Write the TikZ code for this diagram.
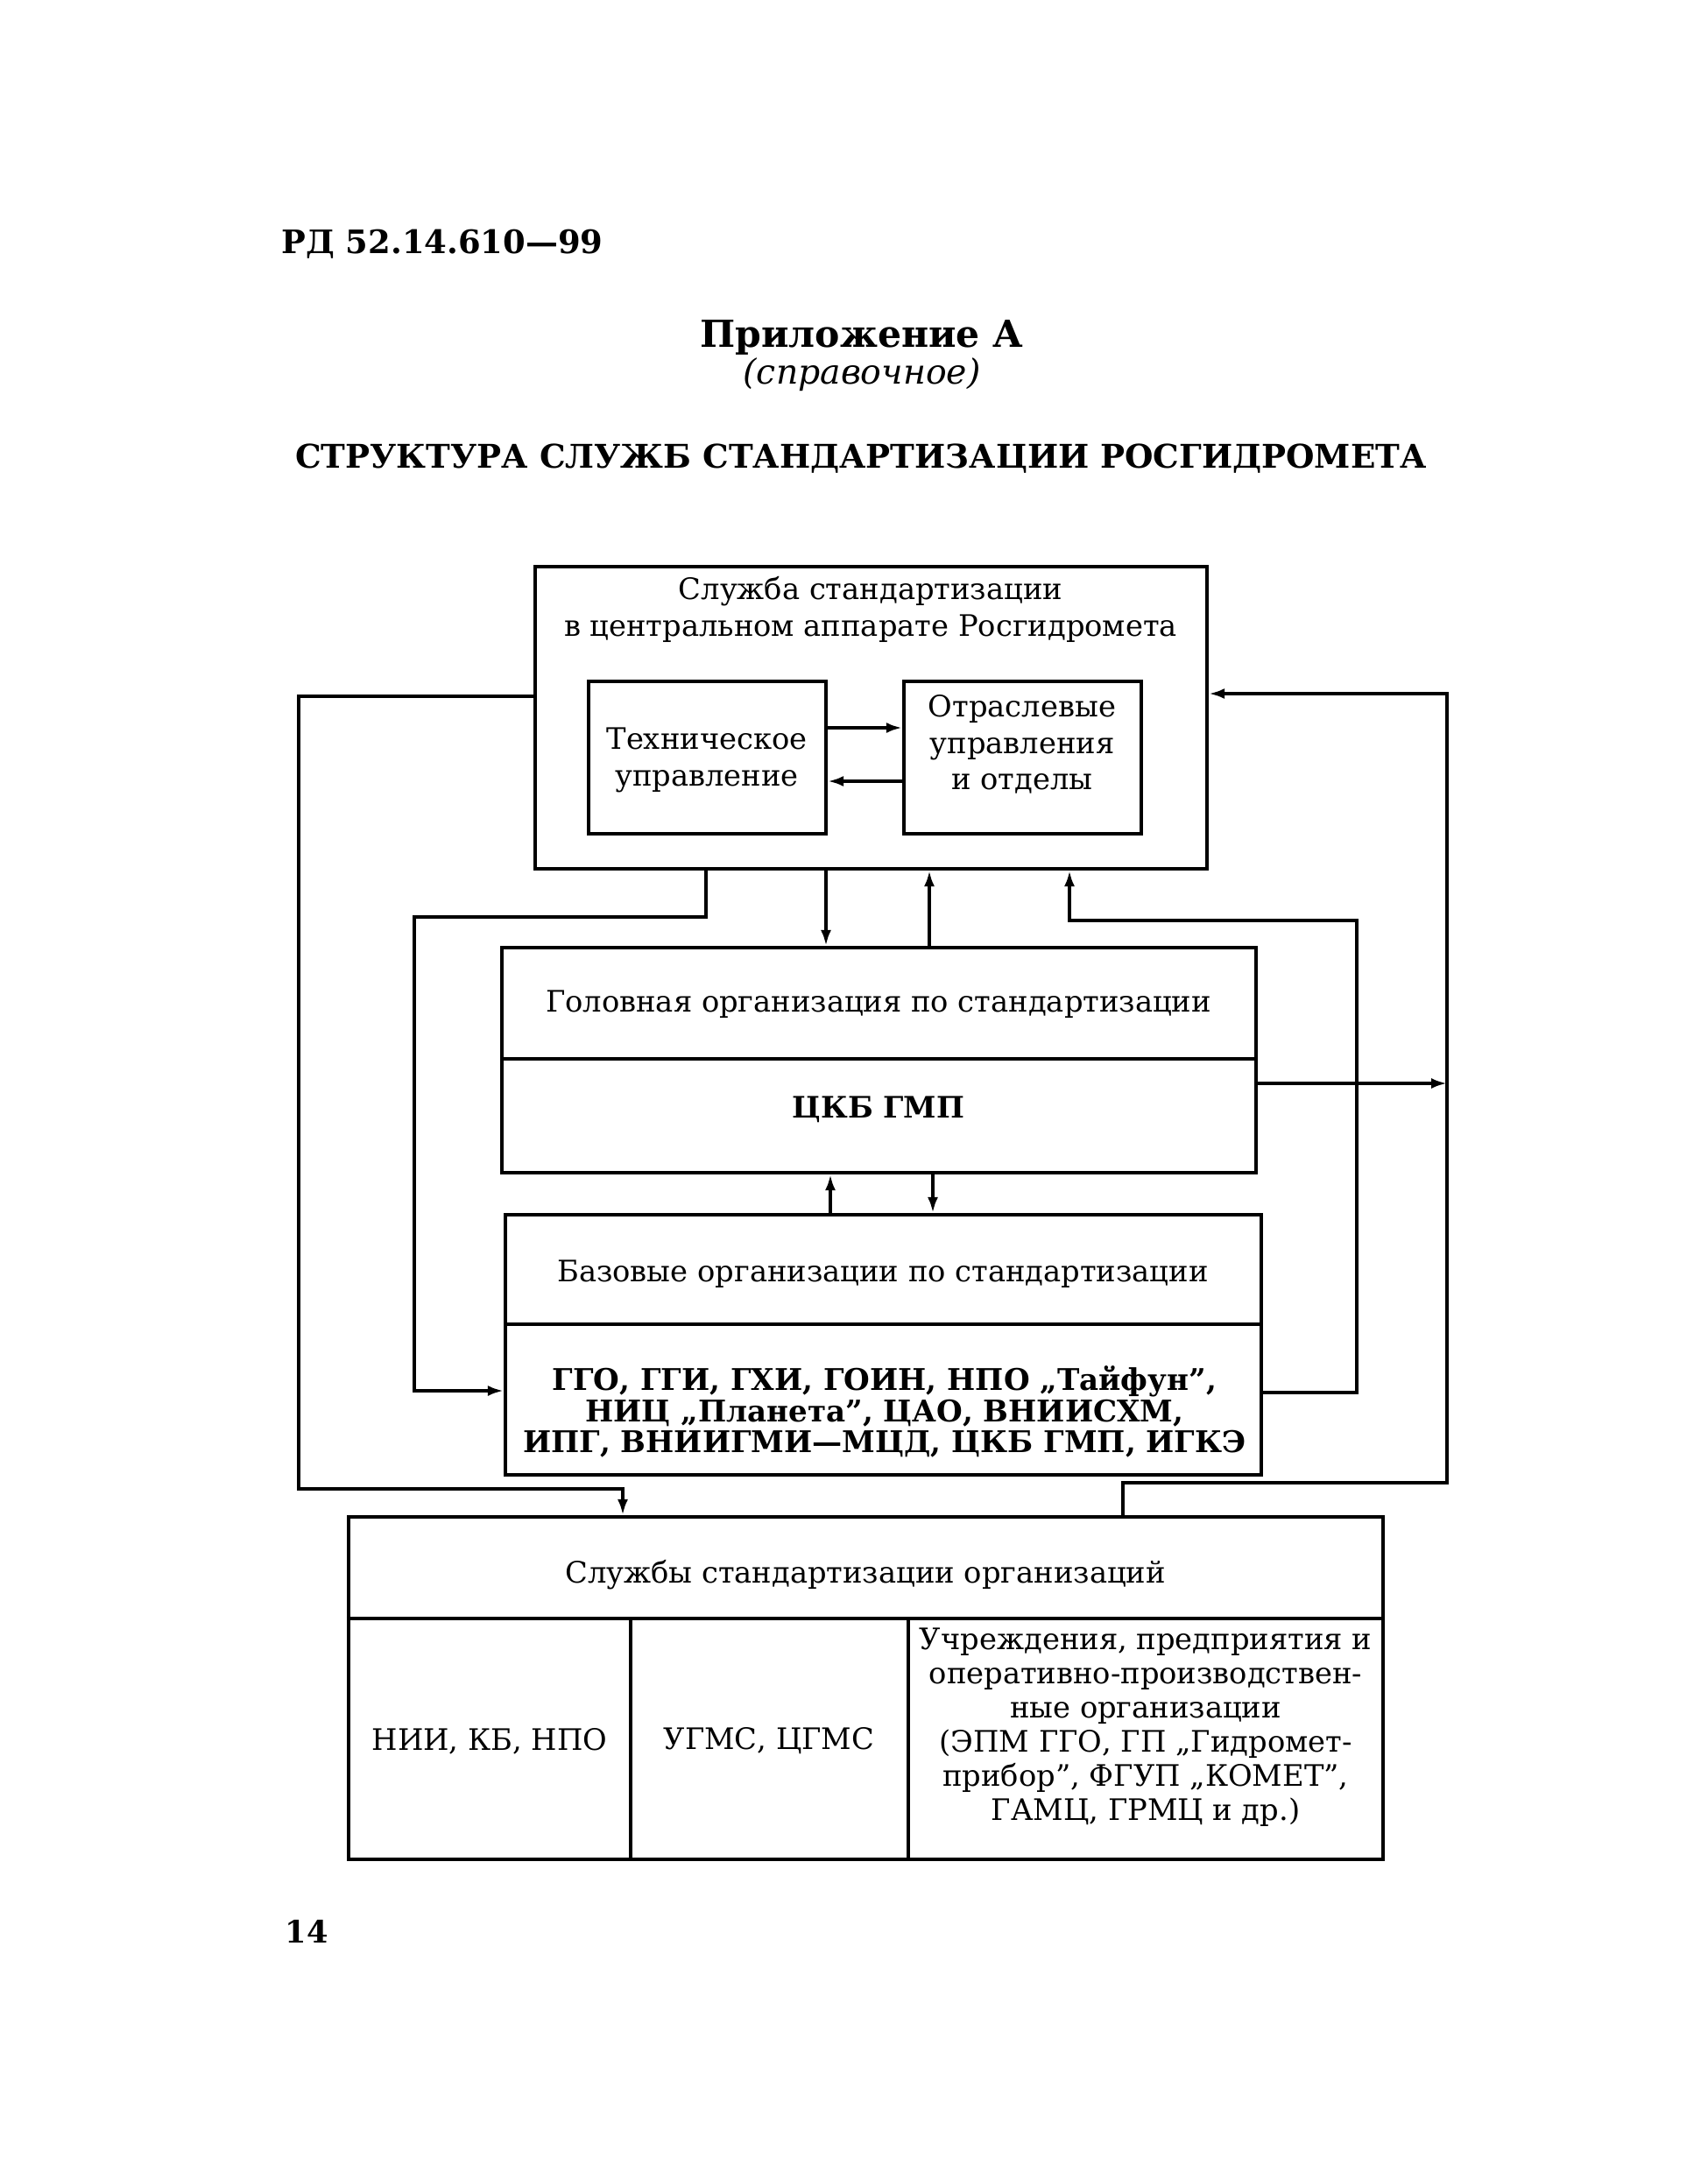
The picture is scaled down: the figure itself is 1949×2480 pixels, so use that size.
\documentclass[tikz,border=0pt]{standalone}
\usepackage{fontspec}
\setmainfont{DejaVu Serif}
\usetikzlibrary{fit,arrows.meta,positioning}
\tikzset{
  boxst/.style={draw, line width=1.2pt, inner sep=0pt},
  conn/.style={line width=1pt},
  arr/.style={line width=1pt, -{Latex[length=1.8mm,width=1.2mm]}},
  txt/.style={align=center, inner sep=0pt, font=\fontsize{9.6}{11.8}\selectfont},
  btxt/.style={align=center, inner sep=0pt, font=\fontsize{9.6}{10}\selectfont\bfseries},
}
\begin{document}
\begin{tikzpicture}[x=0.1mm, y=-0.1mm]
\useasboundingbox (0,0) rectangle (1949,2480);
% headings
\node[inner sep=0pt, font=\fontsize{10.5}{12}\selectfont\bfseries] (rd) at (505,279) {РД 52.14.610—99};
\node[inner sep=0pt, font=\fontsize{12.1}{14}\selectfont\bfseries] (pril) at (984,385) {Приложение А};
\node[inner sep=0pt, font=\fontsize{11.2}{12}\selectfont\itshape] (sprav) at (984,428) {(справочное)};
\node[inner sep=0pt, font=\fontsize{10.6}{13}\selectfont\bfseries] (struct) at (983,524) {СТРУКТУРА СЛУЖБ СТАНДАРТИЗАЦИИ РОСГИДРОМЕТА};
\node[inner sep=0pt, font=\fontsize{10}{12}\selectfont\bfseries] (page) at (350,2205) {14};

% boxes
\node[boxst, fit={(611,647) (1378,992)}] (main) {};
\node[boxst, fit={(672,778) (943,952)}] (tech) {};
\node[boxst, fit={(1032,778) (1303,952)}] (otr) {};
\node[boxst, fit={(573,1082) (1434,1339)}] (golov) {};
\node[boxst, fit={(577,1387) (1440,1684)}] (baz) {};
\node[boxst, fit={(398,1732) (1579,2123)}] (sl) {};

% dividers
\coordinate (gdiv) at (0,1209);
\coordinate (bdiv) at (0,1512);
\coordinate (sdiv) at (0,1848);
\coordinate (c1) at (720,0);
\coordinate (c2) at (1037,0);
\draw[line width=1.2pt] (golov.west |- gdiv) -- (golov.east |- gdiv);
\draw[line width=1.2pt] (baz.west |- bdiv) -- (baz.east |- bdiv);
\draw[line width=1.2pt] (sl.west |- sdiv) -- (sl.east |- sdiv);
\draw[line width=1.2pt] (c1 |- sdiv) -- (c1 |- sl.south);
\draw[line width=1.2pt] (c2 |- sdiv) -- (c2 |- sl.south);

% texts
\node[txt] (tmain) at (994,696) {Служба стандартизации\\в центральном аппарате Росгидромета};
\node[txt] (ttech) at (807,868) {Техническое\\управление};
\node[txt] (totr) at (1167,850) {Отраслевые\\управления\\и отделы};
\node[txt] (tgolov) at (1003,1147) {Головная организация по стандартизации};
\node[btxt] (tckb) at (1003,1267) {ЦКБ ГМП};
\node[txt] (tbaz) at (1008,1455) {Базовые организации по стандартизации};
\node[btxt, font=\fontsize{9.7}{10}\selectfont\bfseries] (tlist) at (1010,1612) {ГГО, ГГИ, ГХИ, ГОИН, НПО „Тайфун”,\\НИЦ „Планета”, ЦАО, ВНИИСХМ,\\ИПГ, ВНИИГМИ—МЦД, ЦКБ ГМП, ИГКЭ};
\node[txt] (tsl) at (988,1798) {Службы стандартизации организаций};
\node[txt] (tnii) at (559,1988) {НИИ, КБ, НПО};
\node[txt] (tugms) at (878,1988) {УГМС, ЦГМС};
\node[txt, font=\fontsize{9.6}{11.1}\selectfont] (tuch) at (1308,1972) {Учреждения, предприятия и\\оперативно-производствен-\\ные организации\\(ЭПМ ГГО, ГП „Гидромет-\\прибор”, ФГУП „КОМЕТ”,\\ГАМЦ, ГРМЦ и др.)};

% inner arrows
\coordinate (ya) at (0,831);
\coordinate (yb) at (0,892);
\draw[arr] (tech.east |- ya) -- (otr.west |- ya);
\draw[arr] (otr.west |- yb) -- (tech.east |- yb);

% connector x positions
\coordinate (xL) at (341,0);
\coordinate (xLi) at (473,0);
\coordinate (xA) at (806,0);
\coordinate (xB) at (943,0);
\coordinate (xC) at (1061,0);
\coordinate (xD) at (1221,0);
\coordinate (xRi) at (1549,0);
\coordinate (xR) at (1652,0);
\coordinate (xE) at (948,0);
\coordinate (xF) at (1065,0);
\coordinate (xS1) at (711,0);
\coordinate (xS2) at (1282,0);

% outer left loop
\draw[arr] (main.west |- 0,795) -- (xL |- 0,795) -- (xL |- 0,1700) -- (xS1 |- 0,1700) -- (xS1 |- sl.north);
% inner left loop
\draw[arr] (xA |- main.south) -- (xA |- 0,1047) -- (xLi |- 0,1047) -- (xLi |- 0,1588) -- (baz.west |- 0,1588);
% main <-> golov
\draw[arr] (xB |- main.south) -- (xB |- golov.north);
\draw[arr] (xC |- golov.north) -- (xC |- main.south);
% inner right loop
\draw[arr] (baz.east |- 0,1590) -- (xRi |- 0,1590) -- (xRi |- 0,1051) -- (xD |- 0,1051) -- (xD |- main.south);
% outer right loop
\draw[arr] (xS2 |- sl.north) -- (xS2 |- 0,1693) -- (xR |- 0,1693) -- (xR |- 0,792) -- (main.east |- 0,792);
% golov -> right line
\draw[arr] (golov.east |- 0,1237) -- (xR |- 0,1237);
% golov <-> baz
\draw[arr] (xE |- baz.north) -- (xE |- golov.south);
\draw[arr] (xF |- golov.south) -- (xF |- baz.north);
\end{tikzpicture}
\end{document}
